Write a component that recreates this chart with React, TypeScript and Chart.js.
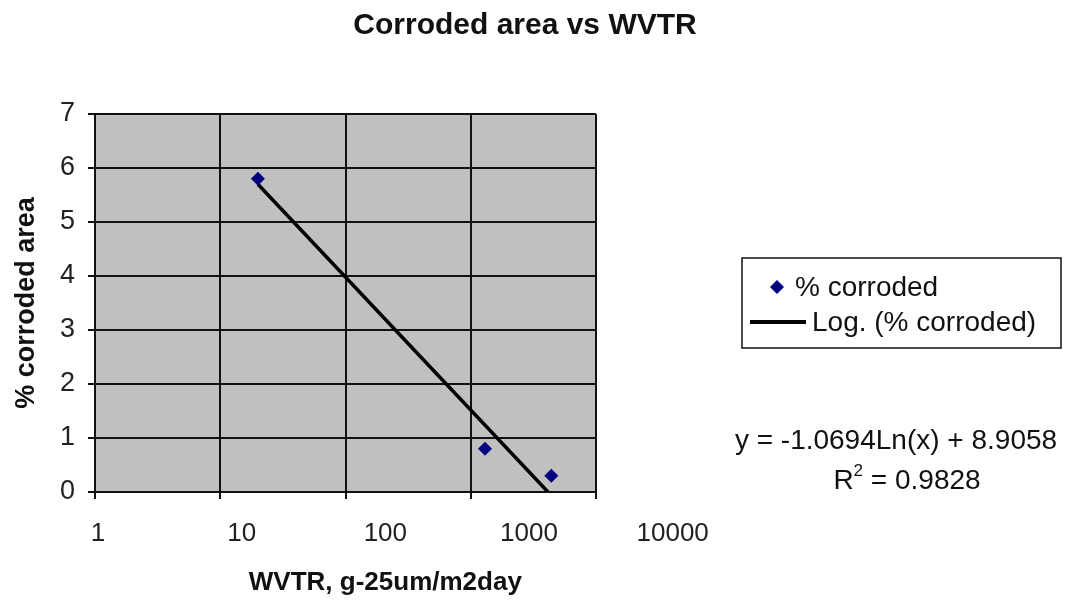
import React, { useEffect, useRef } from 'react';
import { Chart, registerables } from 'chart.js';

Chart.register(...registerables);

// ---- data ----
const wvtr = [20, 1300, 4400];
const corrodedPct = [5.8, 0.8, 0.3];
const trendWvtr = [20, 4140];
const trendPct = [5.7, 0];
const xTickValues = [1, 10, 100, 1000, 10000];
const yTickValues = [0, 1, 2, 3, 4, 5, 6, 7];

const titleText = 'Corroded area vs WVTR';
const xTitle = 'WVTR, g-25um/m2day';
const yTitle = '% corroded area';
const seriesLabel = '% corroded';
const trendLabel = 'Log. (% corroded)';
const equationText = 'y = -1.0694Ln(x) + 8.9058';
const r2Value = '0.9828';

const FONT = '"Liberation Sans", Arial, Helvetica, sans-serif';
const LABEL_SHIFT = 3;
const LABEL_SPREAD = 1.153;

const decorPlugin = {
  id: 'decor',
  beforeDraw(chart: any) {
    const { ctx, chartArea: a } = chart;
    ctx.save();
    ctx.fillStyle = '#ffffff';
    ctx.fillRect(0, 0, chart.width, chart.height);
    ctx.fillStyle = '#c0c0c0';
    ctx.fillRect(a.left, a.top, a.right - a.left, a.bottom - a.top);
    ctx.restore();
  },
  afterLayout(chart: any) {
    const s = chart.scales.x2;
    const a = chart.chartArea;
    if (!s) return;
    const w = a.right - a.left;
    s.left = a.left + LABEL_SHIFT;
    s.right = a.left + w * LABEL_SPREAD;
    s.width = s.right - s.left;
    s.configure();
    s._labelItems = null;
  },
  afterDraw(chart: any) {
    const { ctx } = chart;
    ctx.save();
    // title
    ctx.fillStyle = '#111';
    ctx.font = `bold 30px ${FONT}`;
    ctx.textAlign = 'center';
    ctx.textBaseline = 'middle';
    ctx.fillText(titleText, 525, 26);

    // legend box
    const bx = 742, by = 258, bw = 319, bh = 90;
    ctx.fillStyle = '#fff';
    ctx.fillRect(bx, by, bw, bh);
    ctx.strokeStyle = '#111';
    ctx.lineWidth = 1.5;
    ctx.strokeRect(bx, by, bw, bh);

    // row 1: diamond marker
    const r1 = by + 29;
    ctx.fillStyle = '#000080';
    ctx.beginPath();
    ctx.moveTo(777 - 7, r1);
    ctx.lineTo(777, r1 - 7);
    ctx.lineTo(777 + 7, r1);
    ctx.lineTo(777, r1 + 7);
    ctx.closePath();
    ctx.fill();
    ctx.fillStyle = '#111';
    ctx.font = `28px ${FONT}`;
    ctx.textAlign = 'left';
    ctx.textBaseline = 'middle';
    ctx.fillText(seriesLabel, 795, r1 + 1);

    // row 2: line
    const r2 = by + 64;
    ctx.strokeStyle = '#000';
    ctx.lineWidth = 4;
    ctx.beginPath();
    ctx.moveTo(750, r2);
    ctx.lineTo(806, r2);
    ctx.stroke();
    ctx.fillText(trendLabel, 812, r2 + 1);

    // equation
    ctx.textAlign = 'center';
    ctx.font = `28px ${FONT}`;
    ctx.fillText(equationText, 896, 441);

    // R^2 line
    ctx.textAlign = 'left';
    const partR = 'R';
    const partRest = ' = ' + r2Value;
    ctx.font = `28px ${FONT}`;
    const wR = ctx.measureText(partR).width;
    const wRest = ctx.measureText(partRest).width;
    ctx.font = `17px ${FONT}`;
    const wSup = ctx.measureText('2').width;
    const total = wR + wSup + wRest;
    const x0 = 907 - total / 2;
    ctx.font = `28px ${FONT}`;
    ctx.fillText(partR, x0, 481);
    ctx.font = `17px ${FONT}`;
    ctx.fillText('2', x0 + wR, 471);
    ctx.font = `28px ${FONT}`;
    ctx.fillText(partRest, x0 + wR + wSup, 481);
    ctx.restore();
  },
};

export default function App() {
  const ref = useRef<HTMLCanvasElement>(null);

  useEffect(() => {
    const canvas = ref.current;
    if (!canvas) return;
    Chart.defaults.font.family = FONT;

    const chart = new Chart(canvas, {
      type: 'scatter',
      data: {
        datasets: [
          {
            type: 'scatter',
            label: seriesLabel,
            data: wvtr.map((x, i) => ({ x, y: corrodedPct[i] })),
            pointStyle: 'rectRot',
            pointRadius: 7,
            pointHoverRadius: 7,
            backgroundColor: '#000080',
            borderColor: '#000080',
            borderWidth: 0,
            xAxisID: 'x',
            yAxisID: 'y',
            order: 0,
          } as any,
          {
            type: 'line',
            label: trendLabel,
            data: trendWvtr.map((x, i) => ({ x, y: trendPct[i] })),
            borderColor: '#000000',
            borderWidth: 3.5,
            pointRadius: 0,
            fill: false,
            tension: 0,
            xAxisID: 'x',
            yAxisID: 'y',
            order: 1,
          } as any,
        ],
      },
      options: {
        responsive: false,
        devicePixelRatio: 1,
        animation: false,
        layout: { padding: { top: 114, right: 474, bottom: 0, left: 0 } },
        plugins: {
          legend: { display: false },
          tooltip: { enabled: false },
          title: { display: false },
        },
        scales: {
          x: {
            type: 'logarithmic',
            position: 'bottom',
            weight: 0,
            min: 1,
            max: 10000,
            afterBuildTicks: (s: any) => {
              s.ticks = xTickValues.map((v) => ({ value: v }));
            },
            afterFit: (s: any) => {
              s.height = 7;
            },
            grid: { color: '#111', lineWidth: 2, tickLength: 7, drawTicks: true, tickColor: '#111' },
            border: { display: true, color: '#111', width: 2 },
            ticks: { display: false },
          },
          x2: {
            type: 'logarithmic',
            position: 'bottom',
            weight: 1,
            min: 1,
            max: 10000,
            afterBuildTicks: (s: any) => {
              s.ticks = xTickValues.map((v) => ({ value: v }));
            },
            afterFit: (s: any) => {
              s.height = 102;
            },
            grid: { display: false, drawTicks: false },
            border: { display: false },
            ticks: {
              autoSkip: false,
              maxRotation: 0,
              minRotation: 0,
              padding: 19,
              color: '#222',
              font: { size: 26 },
              callback: (v: any) => String(v),
            },
            title: {
              display: true,
              text: xTitle,
              color: '#111',
              font: { size: 26, weight: 'bold' },
              padding: { top: 0, bottom: 3 },
            },
          },
          y: {
            type: 'linear',
            position: 'left',
            min: 0,
            max: 7,
            afterBuildTicks: (s: any) => {
              s.ticks = yTickValues.map((v) => ({ value: v }));
            },
            afterFit: (s: any) => {
              s.width = 95;
            },
            grid: { color: '#111', lineWidth: 2, tickLength: 7, drawTicks: true, tickColor: '#111' },
            border: { display: true, color: '#111', width: 2 },
            ticks: { padding: 13, color: '#222', font: { size: 27 } },
            title: {
              display: true,
              text: yTitle,
              color: '#111',
              font: { size: 27, weight: 'bold' },
              padding: { top: 10, bottom: 0 },
            },
          },
        } as any,
      },
      plugins: [decorPlugin],
    });

    return () => chart.destroy();
  }, []);

  return (
    <div style={{ position: 'absolute', left: 0, top: 0, width: 1070, height: 601, background: '#fff' }}>
      <canvas ref={ref} width={1070} height={601} style={{ display: 'block' }} />
    </div>
  );
}
